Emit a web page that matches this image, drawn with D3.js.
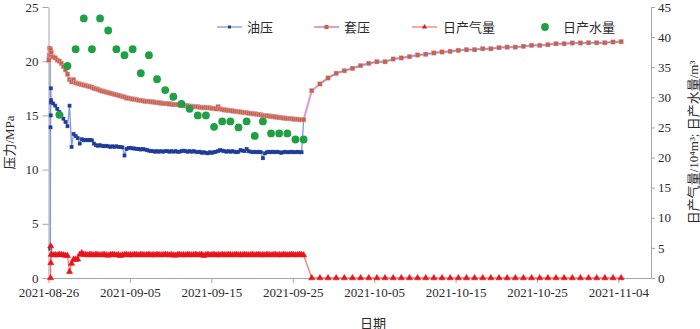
<!DOCTYPE html>
<html>
<head>
<meta charset="utf-8">
<script src="https://cdn.jsdelivr.net/npm/d3@7"></script>
<style>
  body { margin: 0; background: #fff; }
  svg { display: block; }
</style>
</head>
<body>
<div id="chart"></div>
<script>
// ---- data ----
// dense logging (every 6 h) from 2021-08-26 08:00 to 2021-09-26 08:00
const tubingDense = [
  16.4, 16.1, 15.9, 15.6, 15.3, 15.0, 14.7, 14.4, 14.0, 15.9,
  12.1, 13.3, 13.1, 12.9, 12.4, 12.8, 12.7, 12.75, 12.7, 12.75,
  12.7, 12.4, 12.25, 12.2, 12.25, 12.2, 12.15, 12.2, 12.15, 12.1,
  12.15, 12.1, 12.15, 12.1, 12.1, 12.05, 11.3, 11.9, 12.0, 12.0,
  11.95, 11.95, 11.9, 11.9, 11.85, 11.9, 11.85, 11.8, 11.75, 11.7,
  11.7, 11.65, 11.7, 11.65, 11.7, 11.65, 11.7, 11.7, 11.65, 11.7,
  11.65, 11.7, 11.65, 11.65, 11.7, 11.75, 11.7, 11.65, 11.7, 11.65,
  11.7, 11.65, 11.6, 11.65, 11.55, 11.6, 11.55, 11.5, 11.6, 11.55,
  11.6, 11.65, 11.7, 11.8, 11.75, 11.7, 11.65, 11.7, 11.65, 11.7,
  11.65, 11.6, 11.65, 11.8, 11.75, 11.7, 11.9, 11.7, 11.65, 11.6,
  11.65, 11.6, 11.65, 11.6, 11.05, 11.5, 11.6, 11.65, 11.6, 11.65,
  11.6, 11.65, 11.6, 11.55, 11.6, 11.65, 11.6, 11.6, 11.65, 11.6,
  11.6, 11.65, 11.6, 11.6, 14.6
];
const casingDense = [
  20.8, 20.4, 20.3, 20.1, 20.0, 19.8, 19.5, 19.2, 18.8, 18.3,
  18.1, 18.3, 18.0, 17.95, 17.9, 17.85, 17.8, 17.75, 17.7, 17.65,
  17.6, 17.5, 17.45, 17.4, 17.3, 17.25, 17.2, 17.15, 17.1, 17.05,
  17.0, 16.95, 16.9, 16.85, 16.8, 16.75, 16.7, 16.6, 16.6, 16.55,
  16.5, 16.5, 16.45, 16.4, 16.4, 16.35, 16.3, 16.3, 16.3, 16.25,
  16.25, 16.2, 16.2, 16.15, 16.15, 16.1, 16.1, 16.1, 16.05, 16.05,
  16.0, 16.0, 16.0, 15.95, 15.95, 15.9, 15.9, 15.9, 15.85, 15.85,
  15.8, 15.8, 15.8, 15.75, 15.75, 15.7, 15.75, 15.7, 15.7, 15.65,
  15.65, 15.6, 15.8, 15.6, 15.55, 15.5, 15.5, 15.45, 15.45, 15.4,
  15.4, 15.35, 15.35, 15.3, 15.3, 15.25, 15.25, 15.2, 15.2, 15.15,
  15.15, 15.1, 15.1, 15.05, 15.0, 15.0, 14.95, 14.95, 14.9, 14.9,
  14.85, 14.85, 14.8, 14.8, 14.75, 14.75, 14.7, 14.7, 14.7, 14.65,
  14.65, 14.65, 14.6, 14.6, 14.6
];
const gasDense = [
  3.9, 3.8, 3.85, 3.8, 3.9, 3.85, 3.8, 3.75, 3.7, 1.05,
  2.4, 3.1, 3.05, 3.1, 3.9, 4.15, 3.9, 3.85, 3.8, 3.9,
  3.85, 3.8, 3.9, 3.85, 3.8, 3.85, 3.9, 3.8, 3.75, 3.85,
  3.9, 3.85, 3.8, 3.85, 3.7, 3.8, 3.85, 3.9, 3.8, 3.85,
  3.8, 3.9, 3.85, 3.8, 3.9, 3.85, 3.8, 3.85, 3.9, 3.8,
  3.85, 3.8, 3.9, 3.85, 3.8, 3.85, 3.9, 3.85, 3.8, 3.85,
  3.8, 3.75, 3.85, 3.9, 3.8, 3.85, 3.8, 3.9, 3.85, 3.8,
  3.85, 3.9, 3.8, 3.85, 3.9, 3.7, 3.85, 3.9, 3.8, 3.85,
  3.9, 3.8, 3.85, 3.8, 3.9, 3.85, 3.8, 3.9, 3.85, 3.8,
  3.85, 3.9, 3.8, 3.85, 3.8, 3.9, 3.85, 3.8, 3.85, 3.9,
  3.8, 3.85, 3.9, 3.8, 3.85, 3.8, 3.9, 3.85, 3.8, 3.85,
  3.9, 3.8, 3.85, 3.8, 3.9, 3.85, 3.8, 3.85, 3.9, 3.85,
  3.8, 3.85, 3.9, 3.85, 3.8
];

// start-up readings on 2021-08-26 (hour of day, value)
const tubingStartHours = [4, 5, 5.5, 6, 6.5, 7, 7.5];
const tubingStart = [20.5, 20.9, 2.7, 13.9, 15.0, 17.5, 16.2];
const casingStartHours = [1, 2, 3, 4, 5, 6, 7];
const casingStart = [20.1, 20.5, 21.2, 20.6, 20.9, 21.1, 20.6];
const gasStartHours = [6, 6.5, 7];
const gasStart = [0, 5.3, 2.5];

// daily readings after shut-in, 2021-09-27 .. 2021-11-04
const casingDaily = [
  17.28, 17.9, 18.45, 18.88, 19.12, 19.34, 19.59, 19.8, 19.95, 19.95,
  20.2, 20.3, 20.42, 20.57, 20.64, 20.76, 20.85, 20.91, 21.0, 21.06,
  21.06, 21.15, 21.15, 21.25, 21.3, 21.3, 21.37, 21.46, 21.46, 21.52,
  21.61, 21.61, 21.68, 21.68, 21.7, 21.7, 21.7, 21.77, 21.8
];
const tubingDaily = [
  null, 17.9, 18.45, 18.88, 19.12, 19.34, 19.59, 19.8, 19.95, 19.95,
  20.2, 20.3, 20.42, 20.57, 20.64, 20.76, 20.85, 20.91, 21.0, 21.06,
  21.06, 21.15, 21.15, 21.25, 21.3, 21.3, 21.37, 21.46, 21.46, 21.52,
  21.61, 21.61, 21.68, 21.68, 21.7, 21.7, 21.7, 21.77, 21.8
];
const gasDaily = [
  0, 0, 0, 0, 0, 0, 0, 0, 0, 0,
  0, 0, 0, 0, 0, 0, 0, 0, 0, 0,
  0, 0, 0, 0, 0, 0, 0, 0, 0, 0,
  0, 0, 0, 0, 0, 0, 0, 0, 0
];

// daily water, 2021-08-27 .. 2021-09-26
const waterDaily = [
  27.1, 35.2, 38.0, 43.1, 38.0, 43.1, 41.1, 38.0, 37.0, 38.0,
  34.0, 37.0, 33.0, 31.2, 30.1, 28.9, 28.1, 27.0, 27.0, 25.1,
  26.0, 26.0, 25.0, 26.0, 23.6, 26.0, 24.0, 24.0, 24.0, 23.0,
  23.0
];

const dateTicks = ["2021-08-26", "2021-09-05", "2021-09-15", "2021-09-25",
                   "2021-10-05", "2021-10-15", "2021-10-25", "2021-11-04"];
const leftTicks = [0, 5, 10, 15, 20, 25];
const rightTicks = [0, 5, 10, 15, 20, 25, 30, 35, 40, 45];

// ---- layout ----
const W = 700, H = 329;
const margin = { top: 7, right: 49, bottom: 51, left: 48.5 };
const FONT = '"Liberation Serif", "Noto Sans CJK SC", serif';
const HOUR = 3600 * 1000;

const day0 = Date.UTC(2021, 7, 26);
const denseStart = Date.UTC(2021, 7, 26, 8);
const dailyStart = Date.UTC(2021, 8, 27, 8);
const waterStart = Date.UTC(2021, 7, 27, 8);

function pts(start, stepH, values) {
  return values.map((v, i) => ({ t: new Date(start + i * stepH * HOUR), v: v }));
}
function hourPts(hours, values) {
  return hours.map((h, i) => ({ t: new Date(day0 + h * HOUR), v: values[i] }));
}

const tubing = hourPts(tubingStartHours, tubingStart)
  .concat(pts(denseStart, 6, tubingDense), pts(dailyStart, 24, tubingDaily));
const casing = hourPts(casingStartHours, casingStart)
  .concat(pts(denseStart, 6, casingDense), pts(dailyStart, 24, casingDaily));
const gas = hourPts(gasStartHours, gasStart)
  .concat(pts(denseStart, 6, gasDense), pts(dailyStart, 24, gasDaily));
const water = pts(waterStart, 24, waterDaily);

const svg = d3.select("#chart")
  .append("svg")
  .attr("width", W)
  .attr("height", H)
  .attr("font-family", FONT);

const x = d3.scaleUtc()
  .domain([new Date(Date.UTC(2021, 7, 26)), new Date(Date.UTC(2021, 10, 8))])
  .range([margin.left, W - margin.right]);
const yL = d3.scaleLinear().domain([0, 25]).range([H - margin.bottom, margin.top]);
const yR = d3.scaleLinear().domain([0, 45]).range([H - margin.bottom, margin.top]);

// axes
function styleAxis(g) {
  g.attr("font-family", FONT).attr("font-size", 13);
  g.selectAll(".domain, .tick line").attr("stroke", "#a6a6a6");
  g.selectAll(".tick text").attr("fill", "#2b2b2b");
}

svg.append("g")
  .attr("transform", `translate(0,${H - margin.bottom})`)
  .call(d3.axisBottom(x)
    .tickValues(dateTicks.map(s => d3.utcParse("%Y-%m-%d")(s)))
    .tickFormat(d3.utcFormat("%Y-%m-%d"))
    .tickSize(5).tickSizeOuter(0).tickPadding(5))
  .call(styleAxis);

svg.append("g")
  .attr("transform", `translate(${margin.left},0)`)
  .call(d3.axisLeft(yL).tickValues(leftTicks).tickSize(6).tickSizeOuter(0).tickPadding(4))
  .call(styleAxis);

svg.append("g")
  .attr("transform", `translate(${W - margin.right},0)`)
  .call(d3.axisRight(yR).tickValues(rightTicks).tickSize(4).tickSizeOuter(0).tickPadding(3))
  .call(styleAxis);

// axis titles
svg.append("text")
  .attr("transform", `translate(9,${(margin.top + H - margin.bottom) / 2}) rotate(-90)`)
  .attr("text-anchor", "middle")
  .attr("dominant-baseline", "central")
  .attr("font-size", 13)
  .attr("fill", "#2b2b2b")
  .text("压力/MPa");

svg.append("text")
  .attr("transform", `translate(693,${(margin.top + H - margin.bottom) / 2}) rotate(-90)`)
  .attr("text-anchor", "middle")
  .attr("dominant-baseline", "central")
  .attr("font-size", 13)
  .attr("fill", "#2b2b2b")
  .text("日产气量/10⁴m³; 日产水量/m³");

svg.append("text")
  .attr("x", 373)
  .attr("y", 323)
  .attr("text-anchor", "middle")
  .attr("dominant-baseline", "central")
  .attr("font-size", 13)
  .attr("fill", "#2b2b2b")
  .text("日期");

// lines
const lineL = d3.line().defined(d => d.v != null).x(d => x(d.t)).y(d => yL(d.v));
const lineR = d3.line().defined(d => d.v != null).x(d => x(d.t)).y(d => yR(d.v));

const COL = {
  tubingLine: "#7f9ad6", tubingMark: "#1f3c9a",
  casingLine: "#d9a0d6", casingMark: "#cc6438",
  gasLine: "#f07a7a", gasMark: "#e8141c",
  water: "#1fa045"
};

svg.append("path").datum(casing)
  .attr("fill", "none").attr("stroke", COL.casingLine).attr("stroke-width", 2.2)
  .attr("d", lineL);
svg.append("path").datum(tubing)
  .attr("fill", "none").attr("stroke", COL.tubingLine).attr("stroke-width", 1.3)
  .attr("d", lineL);

svg.append("g").selectAll("rect")
  .data(tubing.filter(d => d.v != null))
  .enter().append("rect")
  .attr("x", d => x(d.t) - 1.5).attr("y", d => yL(d.v) - 1.5)
  .attr("width", 3).attr("height", 3)
  .attr("fill", COL.tubingMark)
  .attr("stroke", COL.tubingMark).attr("stroke-width", 0.7);

svg.append("g").selectAll("rect")
  .data(casing)
  .enter().append("rect")
  .attr("x", d => x(d.t) - 2.2).attr("y", d => yL(d.v) - 2.2)
  .attr("width", 4.4).attr("height", 4.4)
  .attr("fill", COL.casingMark)
  .attr("stroke", COL.casingLine).attr("stroke-width", 0.4);

svg.append("path").datum(gas)
  .attr("fill", "none").attr("stroke", COL.gasLine).attr("stroke-width", 1.3)
  .attr("d", lineR);

const tri = d3.symbol().type(d3.symbolTriangle).size(16);
svg.append("g").selectAll("path")
  .data(gas)
  .enter().append("path")
  .attr("transform", d => `translate(${x(d.t)},${yR(d.v)})`)
  .attr("d", tri)
  .attr("fill", COL.gasMark)
  .attr("stroke", COL.gasMark).attr("stroke-width", 0.6);

svg.append("g").selectAll("circle")
  .data(water)
  .enter().append("circle")
  .attr("cx", d => x(d.t)).attr("cy", d => yR(d.v))
  .attr("r", 3.9)
  .attr("fill", COL.water);

// legend
const legY = 27;
const legend = svg.append("g").attr("font-size", 13).attr("fill", "#2b2b2b");

legend.append("line").attr("x1", 217).attr("x2", 242).attr("y1", legY).attr("y2", legY)
  .attr("stroke", COL.tubingLine).attr("stroke-width", 1.3);
legend.append("rect").attr("x", 228).attr("y", legY - 1.5).attr("width", 3).attr("height", 3)
  .attr("fill", COL.tubingMark);
legend.append("text").attr("x", 247).attr("y", legY).attr("dominant-baseline", "central").text("油压");

legend.append("line").attr("x1", 314).attr("x2", 339).attr("y1", legY).attr("y2", legY)
  .attr("stroke", COL.casingLine).attr("stroke-width", 2);
legend.append("rect").attr("x", 324.5).attr("y", legY - 2).attr("width", 4).attr("height", 4)
  .attr("fill", COL.casingMark);
legend.append("text").attr("x", 344).attr("y", legY).attr("dominant-baseline", "central").text("套压");

legend.append("line").attr("x1", 412).attr("x2", 437).attr("y1", legY).attr("y2", legY)
  .attr("stroke", COL.gasLine).attr("stroke-width", 1.3);
legend.append("path").attr("transform", `translate(424.5,${legY})`)
  .attr("d", d3.symbol().type(d3.symbolTriangle).size(12))
  .attr("fill", COL.gasMark);
legend.append("text").attr("x", 443).attr("y", legY).attr("dominant-baseline", "central").text("日产气量");

legend.append("circle").attr("cx", 545).attr("cy", legY).attr("r", 3.9).attr("fill", COL.water);
legend.append("text").attr("x", 563).attr("y", legY).attr("dominant-baseline", "central").text("日产水量");
</script>
</body>
</html>
